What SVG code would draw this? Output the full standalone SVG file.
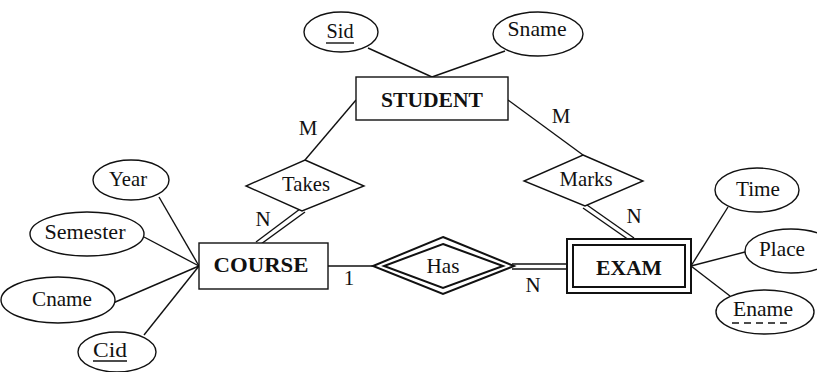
<svg xmlns="http://www.w3.org/2000/svg" width="817" height="372" viewBox="0 0 817 372">
<style>
.s{fill:none;stroke:#111;stroke-width:1.4}
.e{fill:#fff;stroke:#111;stroke-width:1.4}
.t{font-family:"Liberation Serif","Times New Roman",Times,serif;font-size:21px;fill:#111;stroke:none;text-anchor:middle}
.b{font-family:"Liberation Serif","Times New Roman",Times,serif;font-size:21px;font-weight:bold;fill:#111;stroke:none;text-anchor:middle}
</style>
<rect width="817" height="372" fill="#fff"/>
<g id="connectors" class="s">
<line x1="368" y1="48" x2="432" y2="77"/>
<line x1="505" y1="51" x2="432" y2="77"/>
<line x1="356" y1="100" x2="305" y2="160"/>
<line x1="508" y1="100" x2="583" y2="155"/>
<line x1="300" y1="209" x2="256" y2="242"/>
<line x1="305" y1="212" x2="261" y2="244"/>
<line x1="583" y1="208" x2="629" y2="240"/>
<line x1="587" y1="205" x2="634" y2="238"/>
<line x1="159" y1="197" x2="199" y2="266"/>
<line x1="144" y1="237" x2="199" y2="266"/>
<line x1="113" y1="303" x2="199" y2="266"/>
<line x1="144" y1="335" x2="199" y2="266"/>
<line x1="328" y1="266" x2="373" y2="266"/>
<line x1="512" y1="264" x2="567" y2="264"/>
<line x1="512" y1="269" x2="567" y2="269"/>
<line x1="691" y1="266" x2="728" y2="207"/>
<line x1="691" y1="266" x2="745" y2="252"/>
<line x1="691" y1="266" x2="730" y2="296"/>
</g>
<g id="cardinalities">
<text class="t" x="308" y="135">M</text>
<text class="t" x="561" y="123">M</text>
<text class="t" x="263" y="226">N</text>
<text class="t" x="634" y="223">N</text>
<text class="t" x="349" y="285">1</text>
<text class="t" x="533" y="292">N</text>
</g>
<g id="Sid"><ellipse class="e" cx="341" cy="32" rx="37" ry="20"/><text class="t" x="340" y="38" textLength="27" lengthAdjust="spacingAndGlyphs">Sid</text><line class="s" x1="326" y1="43" x2="354" y2="43"/></g>
<g id="Sname"><ellipse class="e" cx="538" cy="34" rx="45" ry="22"/><text class="t" x="537" y="36" textLength="59" lengthAdjust="spacingAndGlyphs">Sname</text></g>
<g id="STUDENT"><rect class="e" x="356" y="77" width="152" height="43"/><text class="b" x="432" y="107" textLength="102" lengthAdjust="spacingAndGlyphs">STUDENT</text></g>
<g id="Takes"><polygon class="e" points="305,160 364,186 302,211 246,186"/><text class="t" x="306" y="191" textLength="48" lengthAdjust="spacingAndGlyphs">Takes</text></g>
<g id="Marks"><polygon class="e" points="583,155 643,181 585,206 524,181"/><text class="t" x="586" y="186" textLength="53" lengthAdjust="spacingAndGlyphs">Marks</text></g>
<g id="Year"><ellipse class="e" cx="131" cy="180" rx="38" ry="20"/><text class="t" x="128" y="186" textLength="38" lengthAdjust="spacingAndGlyphs">Year</text></g>
<g id="Semester"><ellipse class="e" cx="87" cy="234" rx="57" ry="22"/><text class="t" x="85" y="239" textLength="81" lengthAdjust="spacingAndGlyphs">Semester</text></g>
<g id="Cname"><ellipse class="e" cx="58" cy="300" rx="57" ry="23"/><text class="t" x="62" y="306" textLength="60" lengthAdjust="spacingAndGlyphs">Cname</text></g>
<g id="Cid"><ellipse class="e" cx="117" cy="352" rx="39" ry="20"/><text class="t" x="110" y="357" textLength="34" lengthAdjust="spacingAndGlyphs">Cid</text><line class="s" x1="93" y1="361" x2="127" y2="361"/></g>
<g id="COURSE"><rect class="e" x="199" y="243" width="129" height="46"/><text class="b" x="261" y="272" textLength="95" lengthAdjust="spacingAndGlyphs">COURSE</text></g>
<g id="Has"><polygon class="e" style="stroke-width:2" points="443,237 514,266 443,294 373,266"/><polygon class="s" style="stroke-width:2" points="443,244 503,266 443,288 384,266"/><text class="t" x="443" y="273" textLength="33" lengthAdjust="spacingAndGlyphs">Has</text></g>
<g id="EXAM"><rect class="e" style="stroke-width:2" x="567" y="239" width="124" height="54"/><rect class="s" style="stroke-width:2" x="573" y="245" width="112" height="42"/><text class="b" x="629" y="275" textLength="66" lengthAdjust="spacingAndGlyphs">EXAM</text></g>
<g id="Time"><ellipse class="e" cx="757" cy="190" rx="42" ry="22"/><text class="t" x="758" y="196" textLength="44" lengthAdjust="spacingAndGlyphs">Time</text></g>
<g id="Place"><ellipse class="e" cx="791" cy="251" rx="46" ry="22"/><text class="t" x="782" y="256" textLength="46" lengthAdjust="spacingAndGlyphs">Place</text></g>
<g id="Ename"><ellipse class="e" cx="765" cy="312" rx="49" ry="22"/><text class="t" x="763" y="316" textLength="60" lengthAdjust="spacingAndGlyphs">Ename</text><line class="s" x1="732" y1="323" x2="792" y2="323" stroke-dasharray="7,5"/></g>
</svg>
